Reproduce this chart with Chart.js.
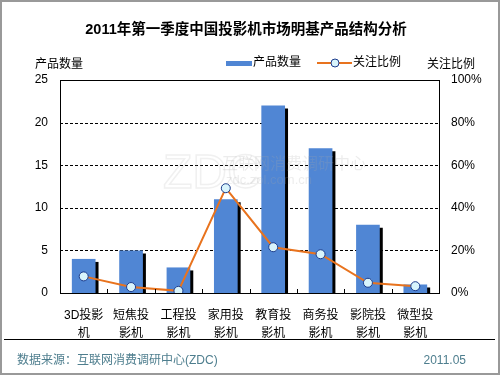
<!DOCTYPE html>
<html>
<head>
<meta charset="utf-8">
<script src="https://cdn.jsdelivr.net/npm/chart.js@4"></script>
<style>
  body { margin:0; background:#fff; }
  #wrap { width:500px; height:375px; position:relative; }
</style>
</head>
<body>
<div id="wrap"><canvas id="chart" width="500" height="375"></canvas></div>
<script>
// data
var labels = [['3D投影','机'],['短焦投','影机'],['工程投','影机'],['家用投','影机'],['教育投','影机'],['商务投','影机'],['影院投','影机'],['微型投','影机']];
var qty = [4, 5, 3, 11, 22, 17, 8, 1];
var ratio = [7.8, 2.8, 1.0, 49.2, 21.5, 18.2, 4.8, 3.2];
var leftTicks = [0, 5, 10, 15, 20, 25];
var rightTicks = [0, 20, 40, 60, 80, 100];

var FONT = "Arial, 'Liberation Sans', 'Noto Sans CJK SC', sans-serif";
var BLUE = "#5086D4";
var ORANGE = "#E8731E";

// black shadow on right side of bars
var barShadow = {
  id: 'barShadow',
  beforeDatasetDraw: function(chart, args){
    if(args.index!=0) return;
    var ctx=chart.ctx, a=chart.chartArea;
    ctx.save();
    ctx.beginPath();
    ctx.rect(a.left, a.top, a.right-a.left, a.bottom-a.top);
    ctx.clip();
    ctx.shadowColor="#000";
    ctx.shadowOffsetX=3;
    ctx.shadowOffsetY=3;
    ctx.shadowBlur=0;
  },
  afterDatasetDraw: function(chart, args){
    if(args.index!=0) return;
    chart.ctx.restore();
  }
};

// frame, texts, legend, watermark
var deco = {
  id: 'deco',
  beforeDraw: function(chart){
    var ctx=chart.ctx;
    ctx.save();
    ctx.fillStyle="#fff";
    ctx.fillRect(0,0,500,375);
    ctx.restore();
  },
  beforeDatasetsDraw: function(chart){
    // dashed grid lines from left scale
    var ctx=chart.ctx, a=chart.chartArea, ys=chart.scales.y;
    ctx.save();
    ctx.strokeStyle="#000";
    ctx.lineWidth=1;
    ctx.setLineDash([3,2]);
    for(var i=1;i<leftTicks.length-1;i++){
      var y=Math.round(ys.getPixelForValue(leftTicks[i]))+0.5;
      ctx.beginPath();
      ctx.moveTo(a.left,y);
      ctx.lineTo(a.right,y);
      ctx.stroke();
    }
    ctx.restore();
  },
  afterDatasetsDraw: function(chart){
    var ctx=chart.ctx;
    ctx.save();
    // watermark
    ctx.globalAlpha=0.22;
    ctx.strokeStyle="#bbb";
    ctx.lineWidth=1.5;
    ctx.font="48px "+FONT;
    ctx.textBaseline="alphabetic";
    ctx.strokeText("ZDC",163,188);
    ctx.fillStyle="#aaa";
    ctx.font="16px "+FONT;
    ctx.fillText("互联网消费调研中心",222,169);
    ctx.font="13px "+FONT;
    ctx.fillText("zdc.zol.com.cn",226,184);
    ctx.restore();
  },
  afterDraw: function(chart){
    var ctx=chart.ctx, a=chart.chartArea;
    ctx.save();
    // plot frame
    ctx.strokeStyle="#000";
    ctx.lineWidth=1;
    ctx.strokeRect(Math.round(a.left)+0.5, Math.round(a.top)+0.5, Math.round(a.right-a.left), Math.round(a.bottom-a.top));
    // small ticks between categories
    var step=(a.right-a.left)/labels.length;
    ctx.beginPath();
    for(var i=1;i<labels.length;i++){
      var x=Math.round(a.left+step*i)+0.5;
      ctx.moveTo(x,a.bottom);
      ctx.lineTo(x,a.bottom-4);
    }
    ctx.stroke();
    // title
    ctx.fillStyle="#000";
    ctx.textAlign="center";
    ctx.textBaseline="middle";
    ctx.font="bold 14.5px "+FONT;
    ctx.fillText("2011年第一季度中国投影机市场明基产品结构分析",246,30);
    // axis titles
    ctx.font="12px "+FONT;
    ctx.fillText("产品数量",59,65);
    ctx.fillText("关注比例",451,65);
    // legend
    ctx.fillStyle=BLUE;
    ctx.fillRect(226,61,26,5);
    ctx.fillStyle="#000";
    ctx.textAlign="left";
    ctx.fillText("产品数量",253,63);
    ctx.strokeStyle=ORANGE;
    ctx.lineWidth=2;
    ctx.beginPath();
    ctx.moveTo(317,63);
    ctx.lineTo(352,63);
    ctx.stroke();
    ctx.beginPath();
    ctx.arc(335,63,4,0,Math.PI*2);
    ctx.fillStyle="#D8F4FC";
    ctx.fill();
    ctx.strokeStyle="#1C3C8C";
    ctx.lineWidth=1;
    ctx.stroke();
    ctx.fillStyle="#000";
    ctx.fillText("关注比例",353,63);
    // footer
    ctx.strokeStyle="#000";
    ctx.beginPath();
    ctx.moveTo(4,339.5);
    ctx.lineTo(495,339.5);
    ctx.stroke();
    ctx.fillStyle="#4E7E8E";
    ctx.font="12px "+FONT;
    ctx.fillText("数据来源：互联网消费调研中心(ZDC)",17,361);
    ctx.textAlign="right";
    ctx.fillText("2011.05",466,361);
    // outer border
    ctx.strokeStyle="#999";
    ctx.lineWidth=2;
    ctx.strokeRect(1,1,498,373);
    ctx.restore();
  }
};

var ctx_chart = document.getElementById("chart").getContext("2d");
var chart = new Chart(ctx_chart, {
  data: {
    labels: labels,
    datasets: [{
      type: "bar",
      label: "产品数量",
      data: qty,
      backgroundColor: BLUE,
      barPercentage: 0.5,
      categoryPercentage: 1,
      yAxisID: "y",
      order: 2
    },{
      type: "line",
      label: "关注比例",
      data: ratio,
      borderColor: ORANGE,
      borderWidth: 2,
      tension: 0,
      pointRadius: 4.5,
      pointBackgroundColor: "#D8F4FC",
      pointBorderColor: "#1C3C8C",
      pointBorderWidth: 1,
      yAxisID: "y1",
      order: 1
    }]
  },
  options: {
    responsive: false,
    animation: false,
    devicePixelRatio: 1,
    layout: { padding: { left:0, right:0, top:80, bottom:0 } },
    plugins: {
      legend: { display: false },
      title: { display: false },
      tooltip: { enabled: false }
    },
    scales: {
      x: {
        grid: { display: false },
        border: { display: false },
        ticks: {
          color: "#000",
          font: { family: FONT, size: 12, lineHeight: 1.5 },
          padding: 6,
          maxRotation: 0,
          autoSkip: false
        },
        afterFit: function(s){ s.height = 82; }
      },
      y: {
        position: "left",
        min: 0, max: 25,
        afterBuildTicks: function(s){ s.ticks = leftTicks.map(function(v){ return {value:v}; }); },
        grid: { display: false, drawTicks: false },
        border: { display: false },
        ticks: { color: "#000", font: { family: FONT, size: 12 }, padding: 12 },
        afterFit: function(s){ s.width = 60; }
      },
      y1: {
        position: "right",
        min: 0, max: 100,
        afterBuildTicks: function(s){ s.ticks = rightTicks.map(function(v){ return {value:v}; }); },
        grid: { display: false, drawTicks: false },
        border: { display: false },
        ticks: {
          color: "#000",
          font: { family: FONT, size: 12 },
          padding: 12,
          callback: function(v){ return v + "%"; }
        },
        afterFit: function(s){ s.width = 61; }
      }
    }
  },
  plugins: [barShadow, deco]
});
</script>
</body>
</html>
